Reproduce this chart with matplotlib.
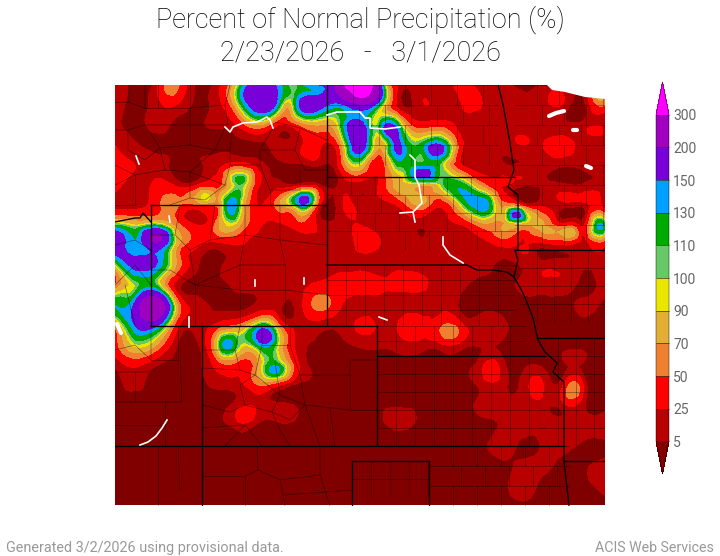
#!/usr/bin/env python3
"""Percent of normal precipitation map, values read off the reference picture."""

import numpy as np
import matplotlib
matplotlib.use("Agg")
import matplotlib.pyplot as plt
import matplotlib.tri as mtri
from matplotlib.colors import ListedColormap, BoundaryNorm
from matplotlib.cm import ScalarMappable

# percent of normal, sampled every 20 px or so over the map
col_x = [115, 135, 156, 176, 197, 217, 237, 258, 278, 299, 319, 339, 360,
         380, 401, 421, 441, 462, 482, 503, 523, 543, 564, 584, 605]
row_y = [85, 105, 125, 145, 165, 185, 205, 225, 245, 265, 285,
         305, 325, 345, 365, 385, 405, 425, 445, 465, 485, 505]

row085 = [15, 0, 15, 60, 0, 15, 90, 170, 140, 115, 150, 230, 320, 160, 15, 15, 15, 30, 15, 8, 0, 10, 15, 15, 15]
row105 = [15, 0, 15, 25, 0, 15, 85, 175, 130, 150, 170, 140, 190, 115, 8, 20, 8, 25, 25, 15, 8, 15, 20, 0, 50]
row125 = [10, 0, 10, 0, 0, 8, 25, 70, 25, 50, 70, 100, 170, 115, 100, 35, 40, 15, 15, 15, 15, 10, 10, 15, 15]
row145 = [25, 8, 0, 0, 0, 0, 0, 0, 10, 20, 30, 50, 180, 70, 150, 115, 150, 30, 15, 15, 25, 25, 35, 15, 15]
row165 = [30, 25, 15, 0, 0, 15, 40, 15, 0, 0, 8, 30, 90, 30, 115, 120, 105, 25, 15, 8, 8, 8, 8, 10, 15]
row185 = [35, 15, 30, 20, 25, 40, 105, 30, 15, 15, 8, 8, 15, 30, 80, 75, 100, 120, 60, 25, 10, 8, 8, 8, 15]
row205 = [15, 15, 40, 55, 50, 55, 125, 25, 60, 130, 30, 15, 15, 15, 35, 70, 30, 100, 145, 60, 35, 20, 15, 15, 8]
row225 = [110, 90, 110, 60, 25, 60, 80, 30, 20, 40, 20, 15, 25, 15, 8, 8, 15, 25, 60, 70, 72, 72, 35, 25, 110]
row245 = [190, 130, 180, 80, 30, 15, 25, 15, 15, 10, 15, 10, 30, 25, 15, 10, 8, 15, 15, 30, 25, 15, 25, 15, 25]
row265 = [90, 160, 150, 70, 8, 0, 10, 10, 15, 15, 15, 20, 20, 15, 20, 15, 8, 8, 8, 0, 8, 15, 15, 8, 15]
row285 = [50, 100, 110, 15, 0, 0, 8, 10, 12, 15, 30, 30, 35, 30, 30, 30, 15, 8, 0, 0, 8, 15, 15, 0, 15]
row305 = [130, 160, 250, 80, 15, 0, 0, 8, 10, 15, 60, 30, 15, 15, 15, 15, 20, 0, 0, 0, 0, 0, 0, 8, 0]
row325 = [60, 150, 160, 40, 15, 30, 50, 110, 60, 15, 15, 10, 30, 20, 30, 35, 45, 30, 15, 8, 0, 0, 0, 0, 0]
row345 = [40, 95, 70, 8, 0, 90, 110, 125, 95, 15, 0, 0, 8, 8, 15, 15, 20, 15, 8, 0, 0, 0, 0, 0, 0]
row365 = [8, 30, 8, 0, 0, 35, 40, 70, 120, 25, 0, 0, 0, 0, 0, 0, 0, 0, 20, 12, 0, 0, 0, 0, 0]
row385 = [0, 8, 0, 0, 0, 8, 15, 50, 30, 0, 0, 0, 0, 0, 0, 0, 0, 0, 12, 12, 12, 26, 28, 20, 0]
row405 = [0, 0, 0, 0, 0, 0, 15, 20, 10, 0, 0, 0, 0, 0, 0, 0, 0, 0, 10, 12, 12, 15, 20, 8, 0]
row425 = [0, 0, 0, 0, 0, 0, 15, 0, 0, 0, 0, 0, 0, 0, 12, 0, 0, 0, 0, 8, 15, 10, 18, 15, 15]
row445 = [0, 0, 0, 0, 0, 0, 0, 0, 0, 0, 0, 0, 0, 0, 0, 0, 0, 0, 0, 15, 0, 8, 15, 0, 0]
row465 = [0, 0, 0, 0, 0, 0, 0, 0, 0, 0, 0, 0, 0, 0, 0, 0, 0, 0, 0, 0, 10, 10, 0, 0, 15]
row485 = [0, 0, 0, 0, 0, 0, 0, 0, 0, 0, 0, 0, 0, 0, 0, 0, 0, 0, 0, 0, 15, 0, 0, 0, 15]
row505 = [0] * 25

# extra samples where the bands are narrower than the 20 px spacing
peak_x = [228, 241, 238, 208, 307, 280, 158, 262, 298, 287, 288, 290, 168, 310, 323, 318, 353, 358,
          385, 390, 399, 438, 423, 453, 470, 483, 517, 530, 547, 568, 600, 422, 400, 600,
          267, 278, 273, 277, 228, 247, 318, 450, 410, 489, 570, 538, 399, 560, 602,
          372, 345, 360, 250, 272, 495, 505, 538, 552]
peak_y = [208, 197, 183, 199, 199, 200, 240, 98, 90, 107, 100, 117, 88, 100, 100, 90, 90, 145,
          125, 135, 147, 150, 172, 183, 190, 205, 216, 223, 230, 227, 225, 197, 183, 102,
          335, 370, 375, 352, 345, 415, 302, 332, 323, 368, 388, 382, 416, 428, 472,
          85, 85, 97, 95, 95, 219, 222, 226, 232]
peak_pct = [135, 105, 112, 92, 160, 65, 210, 180, 112, 70, 95, 60, 60, 175, 170, 135, 320, 180,
            150, 160, 160, 170, 165, 120, 120, 145, 160, 80, 75, 60, 135, 75, 80, 65,
            170, 135, 120, 95, 140, 40, 60, 65, 40, 38, 62, 32, 18, 20, 20,
            305, 305, 305, 175, 170, 75, 75, 75, 72]

levels = [5, 25, 50, 70, 90, 100, 110, 130, 150, 200, 300]
band_colors = ["#800000", "#b80000", "#ff0000", "#f08030", "#e2ae33", "#ebe600",
               "#66c866", "#00aa00", "#00a0ff", "#7800d8", "#a000c0", "#ff00ff"]

title_text = "Percent of Normal Precipitation (%)\n2/23/2026   -   3/1/2026"
footer_left = "Generated 3/2/2026 using provisional data."
footer_right = "ACIS Web Services"

# map outlines, in picture pixels
state_lines = [
    [(151, 205), (327, 205)],
    [(327, 85), (327, 326)],
    [(327, 177), (515, 177)],
    [(327, 265), (467, 265), (477, 270), (492, 270), (507, 272), (514, 277)],
    [(115, 222), (135, 218), (140, 218), (143, 213), (151, 222)],
    [(151, 205), (151, 326)],
    [(151, 326), (377, 326)],
    [(202, 326), (202, 506)],
    [(115, 446), (564, 446)],
    [(377, 326), (377, 446)],
    [(377, 356), (545, 356)],
    [(352, 461), (429, 461)],
    [(352, 461), (352, 506)],
    [(429, 461), (429, 506)],
    [(498, 85), (502, 100), (506, 120), (510, 143), (514, 170), (508, 187), (518, 195), (518, 250)],
    [(515, 250), (605, 250)],
    [(515, 250), (518, 260), (514, 277), (523, 293), (528, 305), (533, 318), (538, 340),
     (545, 352), (557, 363), (553, 372), (564, 382), (564, 461), (569, 506)],
    [(537, 338), (605, 338)],
    [(564, 461), (605, 461)],
]
river_lines = [
    [(225, 127), (230, 132), (233, 127), (243, 123), (257, 122), (267, 117), (270, 120), (273, 128)],
    [(327, 115), (337, 112), (360, 112), (365, 118), (370, 118), (370, 128), (385, 129), (400, 127)],
    [(410, 155), (415, 160), (415, 177), (419, 185), (422, 203), (413, 212), (400, 213)],
    [(413, 212), (415, 222)],
    [(443, 237), (443, 245), (450, 255), (463, 263)],
    [(140, 445), (148, 442), (156, 436), (162, 428), (167, 420)],
    [(379, 317), (387, 320)],
    [(136, 156), (139, 164)],
    [(169, 216), (170, 222)],
    [(189, 317), (189, 327)],
    [(255, 280), (255, 286)],
    [(304, 278), (304, 284)],
]
lake_lines = [
    [(549, 116), (556, 113), (564, 111)],
    [(117, 324), (121, 333)],
    [(586, 166), (591, 168)],
    [(573, 130), (577, 130)],
]
# no data corner at the top right
blank_x = [547, 605, 605, 585, 565, 552]
blank_y = [85, 85, 99, 97, 92, 90]

# plains counties come close to a regular block: x0, x1, y0, y1, dx, dy, stagger
county_blocks = [
    (377, 545, 356, 446, 19, 18, 0), (377, 525, 326, 356, 19, 15, 0), (327, 515, 265, 326, 19, 15, 0),
    (327, 515, 177, 265, 24, 18, 6), (327, 498, 85, 177, 26, 20, 6), (515, 605, 85, 250, 22, 20, 5),
    (520, 605, 250, 338, 17, 18, 0), (540, 605, 338, 461, 18, 18, 0), (352, 429, 461, 506, 19, 18, 0),
    (429, 569, 446, 506, 24, 20, 8),
]
# western counties are irregular, traced by hand
county_traces = [
    [(128, 85), (128, 102), (115, 102)], [(145, 85), (145, 108), (128, 102)], [(158, 85), (158, 108), (145, 108)],
    [(158, 108), (190, 108), (190, 85)], [(190, 108), (190, 125), (145, 125), (128, 130), (115, 130)],
    [(190, 108), (225, 105), (230, 85)], [(225, 105), (228, 125), (190, 125)], [(145, 125), (160, 148), (190, 145)],
    [(128, 130), (128, 150), (145, 160), (160, 148)], [(190, 125), (190, 145), (215, 150), (225, 128)],
    [(160, 148), (165, 170), (135, 175), (115, 165)], [(165, 170), (190, 172), (215, 150)],
    [(215, 150), (230, 150), (232, 132)], [(230, 150), (230, 165), (260, 165), (260, 150), (273, 128)],
    [(260, 150), (295, 150), (300, 128), (275, 122)], [(295, 150), (305, 170), (327, 170)],
    [(300, 128), (327, 140)], [(190, 172), (190, 198), (170, 205)], [(230, 165), (225, 185), (190, 172)],
    [(260, 165), (270, 190), (300, 190), (300, 170)], [(270, 190), (270, 205)], [(225, 185), (205, 200), (190, 198)],
    [(115, 185), (135, 175)], [(115, 205), (135, 205), (135, 175)],
    # Wyoming
    [(151, 235), (175, 235), (180, 205)], [(175, 235), (190, 250), (210, 240), (215, 205)],
    [(210, 240), (245, 235), (245, 205)], [(245, 235), (280, 240), (280, 205)], [(280, 240), (327, 245)],
    [(190, 250), (195, 285), (170, 270), (151, 270)], [(195, 285), (240, 265), (245, 235)],
    [(240, 265), (240, 290), (195, 285)], [(240, 290), (240, 326)], [(240, 265), (285, 265), (280, 240)],
    [(285, 265), (285, 290), (240, 290)], [(285, 290), (327, 295)], [(285, 290), (285, 326)],
    [(195, 285), (195, 326)],
    # Colorado
    [(202, 350), (235, 350), (240, 326)], [(235, 350), (240, 370), (202, 368)], [(240, 370), (255, 375), (262, 345), (262, 326)],
    [(262, 345), (290, 345), (290, 326)], [(255, 375), (240, 385), (245, 405), (230, 412), (202, 405)],
    [(255, 375), (280, 395), (275, 362)], [(280, 395), (272, 412), (245, 405)], [(272, 412), (290, 420), (305, 405), (280, 395)],
    [(305, 405), (350, 410), (350, 360), (377, 360)], [(290, 345), (300, 375), (350, 375)], [(300, 375), (305, 405)],
    [(202, 428), (245, 425), (225, 446)], [(245, 425), (262, 446)], [(272, 412), (280, 430), (290, 446)],
    [(305, 405), (320, 446)], [(350, 410), (377, 410)], [(330, 408), (335, 446)],
    # New Mexico
    [(257, 446), (258, 470), (280, 480), (285, 506)], [(202, 476), (245, 476), (245, 506)], [(245, 476), (258, 470)],
    [(280, 480), (320, 475), (320, 446)], [(320, 475), (330, 506)], [(285, 495), (352, 490)],
    # Utah and Idaho side
    [(115, 350), (135, 345), (151, 360), (151, 326)], [(151, 360), (178, 360), (178, 326)], [(115, 372), (148, 372), (170, 360)],
    [(115, 402), (182, 402), (180, 360)], [(135, 372), (135, 402)], [(165, 402), (165, 446)],
    [(115, 425), (165, 425)], [(158, 446), (158, 506)], [(178, 446), (180, 490)],
    [(115, 245), (135, 240), (151, 250)], [(115, 285), (135, 265), (151, 285)], [(125, 285), (135, 326)],
]


def draw_counties(ax):
    for x0, x1, y0, y1, dx, dy, stagger in county_blocks:
        ys = np.arange(y0, y1 + 1, dy)
        for i, y in enumerate(ys[:-1]):
            ax.plot([x0, x1], [y, y], color="black", lw=0.45, alpha=0.5, zorder=3)
            shift = stagger if i % 2 else 0
            for x in np.arange(x0 + dx + shift, x1, dx):
                ax.plot([x, x], [y, min(y + dy, y1)], color="black", lw=0.45, alpha=0.5, zorder=3)
    for line in county_traces:
        ax.plot(*zip(*line), color="black", lw=0.45, alpha=0.55, zorder=3)


def main():
    fig = plt.figure(figsize=(7.2, 5.56), dpi=100)
    plt.rcParams["font.family"] = ["Roboto", "DejaVu Sans"]

    grid = np.vstack([row085, row105, row125, row145, row165, row185, row205, row225,
                      row245, row265, row285, row305, row325, row345, row365, row385,
                      row405, row425, row445, row465, row485, row505])
    xx, yy = np.meshgrid(col_x, row_y)
    xs = np.concatenate([xx.ravel(), peak_x]).astype(float)
    ys = np.concatenate([yy.ravel(), peak_y]).astype(float)
    pct = np.concatenate([grid.ravel(), peak_pct]).astype(float)

    ax = fig.add_axes([115 / 720, 50 / 556, 490 / 720, 421 / 556])
    ax.set_facecolor("#800000")
    # rounds off the triangle corners of the contours
    tri = mtri.Triangulation(xs, ys)
    fine_tri, fine_pct = mtri.UniformTriRefiner(tri).refine_field(pct, subdiv=3)
    ax.tricontourf(fine_tri, fine_pct, levels=levels, colors=band_colors, extend="both", zorder=1)
    ax.set_xlim(115, 605)
    ax.set_ylim(506, 85)
    ax.axis("off")

    draw_counties(ax)
    for line in state_lines:
        ax.plot(*zip(*line), color="black", lw=0.95, zorder=4)
    ax.fill(blank_x, blank_y, color="white", lw=0, zorder=5)
    for line in river_lines:
        ax.plot(*zip(*line), color="white", lw=1.2, zorder=5)
    for line in lake_lines:
        ax.plot(*zip(*line), color="white", lw=3, solid_capstyle="round", zorder=5)

    # colour bar on the right, the tips sit inside the axes box
    cax = fig.add_axes([656 / 720, 82 / 556, 13 / 720, 392 / 556])
    cmap = ListedColormap(band_colors[1:-1])
    cmap.set_under(band_colors[0])
    cmap.set_over(band_colors[-1])
    sm = ScalarMappable(norm=BoundaryNorm(levels, cmap.N), cmap=cmap)
    cbar = fig.colorbar(sm, cax=cax, extend="both", spacing="uniform", extendfrac=0.1,
                        ticks=levels, drawedges=True)
    cbar.outline.set_linewidth(0.3)
    cbar.dividers.set_linewidth(0.5)
    cbar.dividers.set_color("#333333")
    cbar.ax.tick_params(length=0, pad=3, labelsize=10, labelcolor="#666666")
    cbar.ax.set_yticklabels([str(v) for v in levels])

    fig.text(0.5, 1 - 36 / 556, title_text, ha="center", va="center", fontsize=19.5,
             linespacing=1.25, color="black", fontweight="light")
    fig.text(6 / 720, 1 - 548 / 556, footer_left, ha="left", va="center", fontsize=10.4, color="#999999")
    fig.text(714 / 720, 1 - 548 / 556, footer_right, ha="right", va="center", fontsize=10.2, color="#999999")

    fig.savefig("out.png", dpi=100)


if __name__ == "__main__":
    main()
